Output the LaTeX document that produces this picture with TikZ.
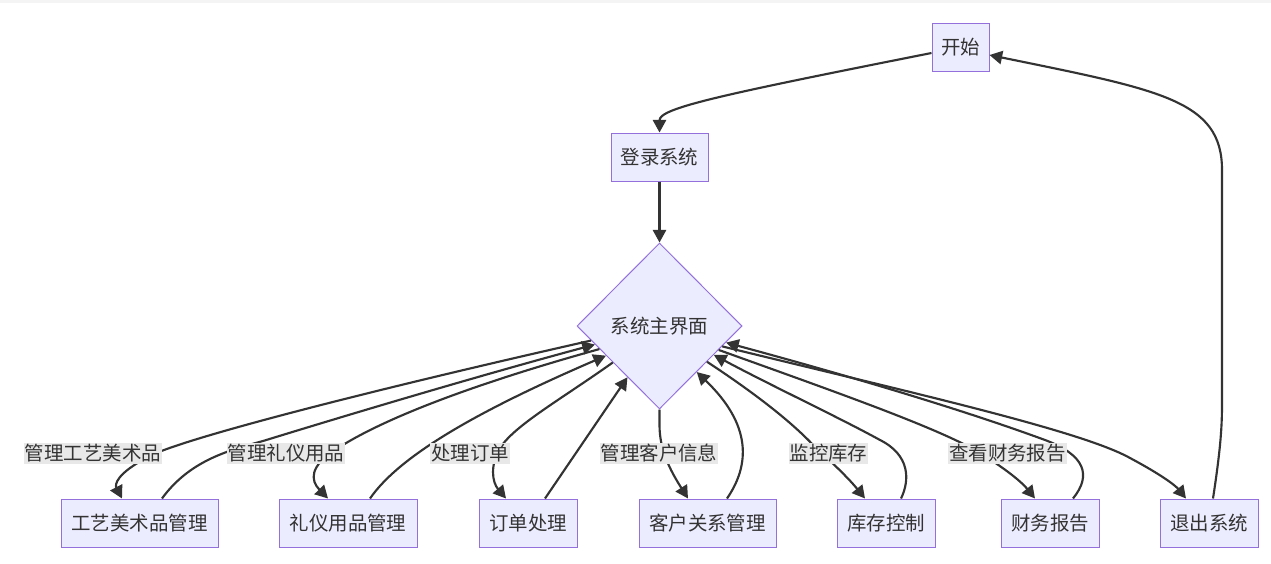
\documentclass[tikz,border=0pt]{standalone}
\usepackage{fontspec}
\newfontfamily\cjk{Noto Sans CJK SC}
\usetikzlibrary{arrows.meta,calc,shapes.geometric}
\definecolor{nodefill}{HTML}{ECECFF}
\definecolor{nodeline}{HTML}{9370DB}
\definecolor{edgecol}{HTML}{333333}
\definecolor{lblfill}{HTML}{E8E8E8}
\definecolor{txt}{HTML}{333333}
\definecolor{topband}{HTML}{F4F4F4}
\begin{document}
\begin{tikzpicture}[x=0.75pt,y=-0.75pt,
  every node/.style={font=\cjk\fontsize{14.6pt}{17pt}\selectfont, text=txt},
  box/.style={draw=nodeline, fill=nodefill, line width=0.75pt, minimum height=36pt, inner sep=0pt},
  dia/.style={diamond, draw=nodeline, fill=nodefill, line width=0.75pt, minimum width=123.75pt, minimum height=124.5pt, inner sep=0pt},
  conn/.style={draw=edgecol, line width=1.6pt, -{Triangle[length=9.5pt,width=10pt]}},
  lbl/.style={fill=lblfill, inner xsep=0.6pt, inner ysep=0pt, minimum height=15.75pt}
]
\useasboundingbox (0,0) rectangle (1271,564);
\fill[topband] (0,0) rectangle (1271,3);

\node[box, minimum width=42.75pt] (start) at (960.5,47) {开始};
\node[box, minimum width=72.75pt] (login) at (659.5,157) {登录系统};
\node[dia] (main) at (659.5,326) {系统主界面};
\node[box, minimum width=117.75pt] (m1) at (139.5,523) {工艺美术品管理};
\node[box, minimum width=103.5pt] (m2) at (348,523) {礼仪用品管理};
\node[box, minimum width=73.5pt] (m3) at (528,523) {订单处理};
\node[box, minimum width=102.75pt] (m4) at (707.5,523) {客户关系管理};
\node[box, minimum width=73.5pt] (m5) at (886,523) {库存控制};
\node[box, minimum width=73.5pt] (m6) at (1050,523) {财务报告};
\node[box, minimum width=73.5pt] (quit) at (1209,523) {退出系统};

\draw[conn] ($(start.west)+(0,6)$) .. controls (720,95) and (659.5,108) .. (login.north);
\draw[conn] (login.south) -- (main.north);

\draw[conn] (main.192) .. controls (350,395) and (180,440) .. (150,456) .. controls (115,474) and (115,485) .. ($(m1.north)+(-17.5,0)$);
\draw[conn] ($(m1.north)+(22.5,0)$) .. controls (190,460) and (230,450) .. (263,441) .. controls (380,405) and (500,370) .. (main.196);
\draw[conn] (main.201) .. controls (470,385) and (380,420) .. (335,450) .. controls (310,466) and (310,480) .. ($(m2.north)+(-20,0)$);
\draw[conn] ($(m2.north)+(22,0)$) .. controls (400,455) and (480,410) .. (main.209);
\draw[conn] (main.218) .. controls (560,400) and (515,425) .. (500,448) .. controls (490,465) and (492,482) .. ($(m3.north)+(-22,0)$);
\draw[conn] ($(m3.north)+(17,0)$) -- (main.238);
\draw[conn] (main.south) -- (659.5,425) .. controls (659.5,450) and (670,470) .. ($(m4.north)+(-19.5,0)$);
\draw[conn] ($(m4.north)+(19.5,0)$) .. controls (750,465) and (752,425) .. (main.309);
\draw[conn] (main.323) .. controls (750,390) and (790,420) .. (815,447) .. controls (835,465) and (850,480) .. ($(m5.north)+(-21,0)$);
\draw[conn] ($(m5.north)+(15,0)$) .. controls (910,480) and (910,455) .. (880,440) .. controls (840,418) and (770,385) .. (main.332);
\draw[conn] (main.338) .. controls (830,390) and (930,425) .. (975,450) .. controls (1000,465) and (1020,480) .. ($(m6.north)+(-15,0)$);
\draw[conn] ($(m6.north)+(23,0)$) .. controls (1092,475) and (1085,455) .. (1045,440) .. controls (950,405) and (820,368) .. (main.346);
\draw[conn] (main.342) .. controls (900,390) and (1080,430) .. (1130,458) .. controls (1160,474) and (1175,485) .. ($(quit.north)+(-23,0)$);
\draw[conn] ($(quit.north)+(4,0)$) .. controls (1222,440) and (1222,420) .. (1222,400) -- (1222,170) .. controls (1222,100) and (1160,90) .. ($(start.east)+(0,8)$);

\node[lbl] (l1) at (93,453.5) {管理工艺美术品};
\node[lbl] (l2) at (286,453.5) {管理礼仪用品};
\node[lbl] (l3) at (470,453.5) {处理订单};
\node[lbl] (l4) at (659,453.5) {管理客户信息};
\node[lbl] (l5) at (828.5,453.5) {监控库存};
\node[lbl] (l6) at (1007.5,453.5) {查看财务报告};
\end{tikzpicture}
\end{document}
